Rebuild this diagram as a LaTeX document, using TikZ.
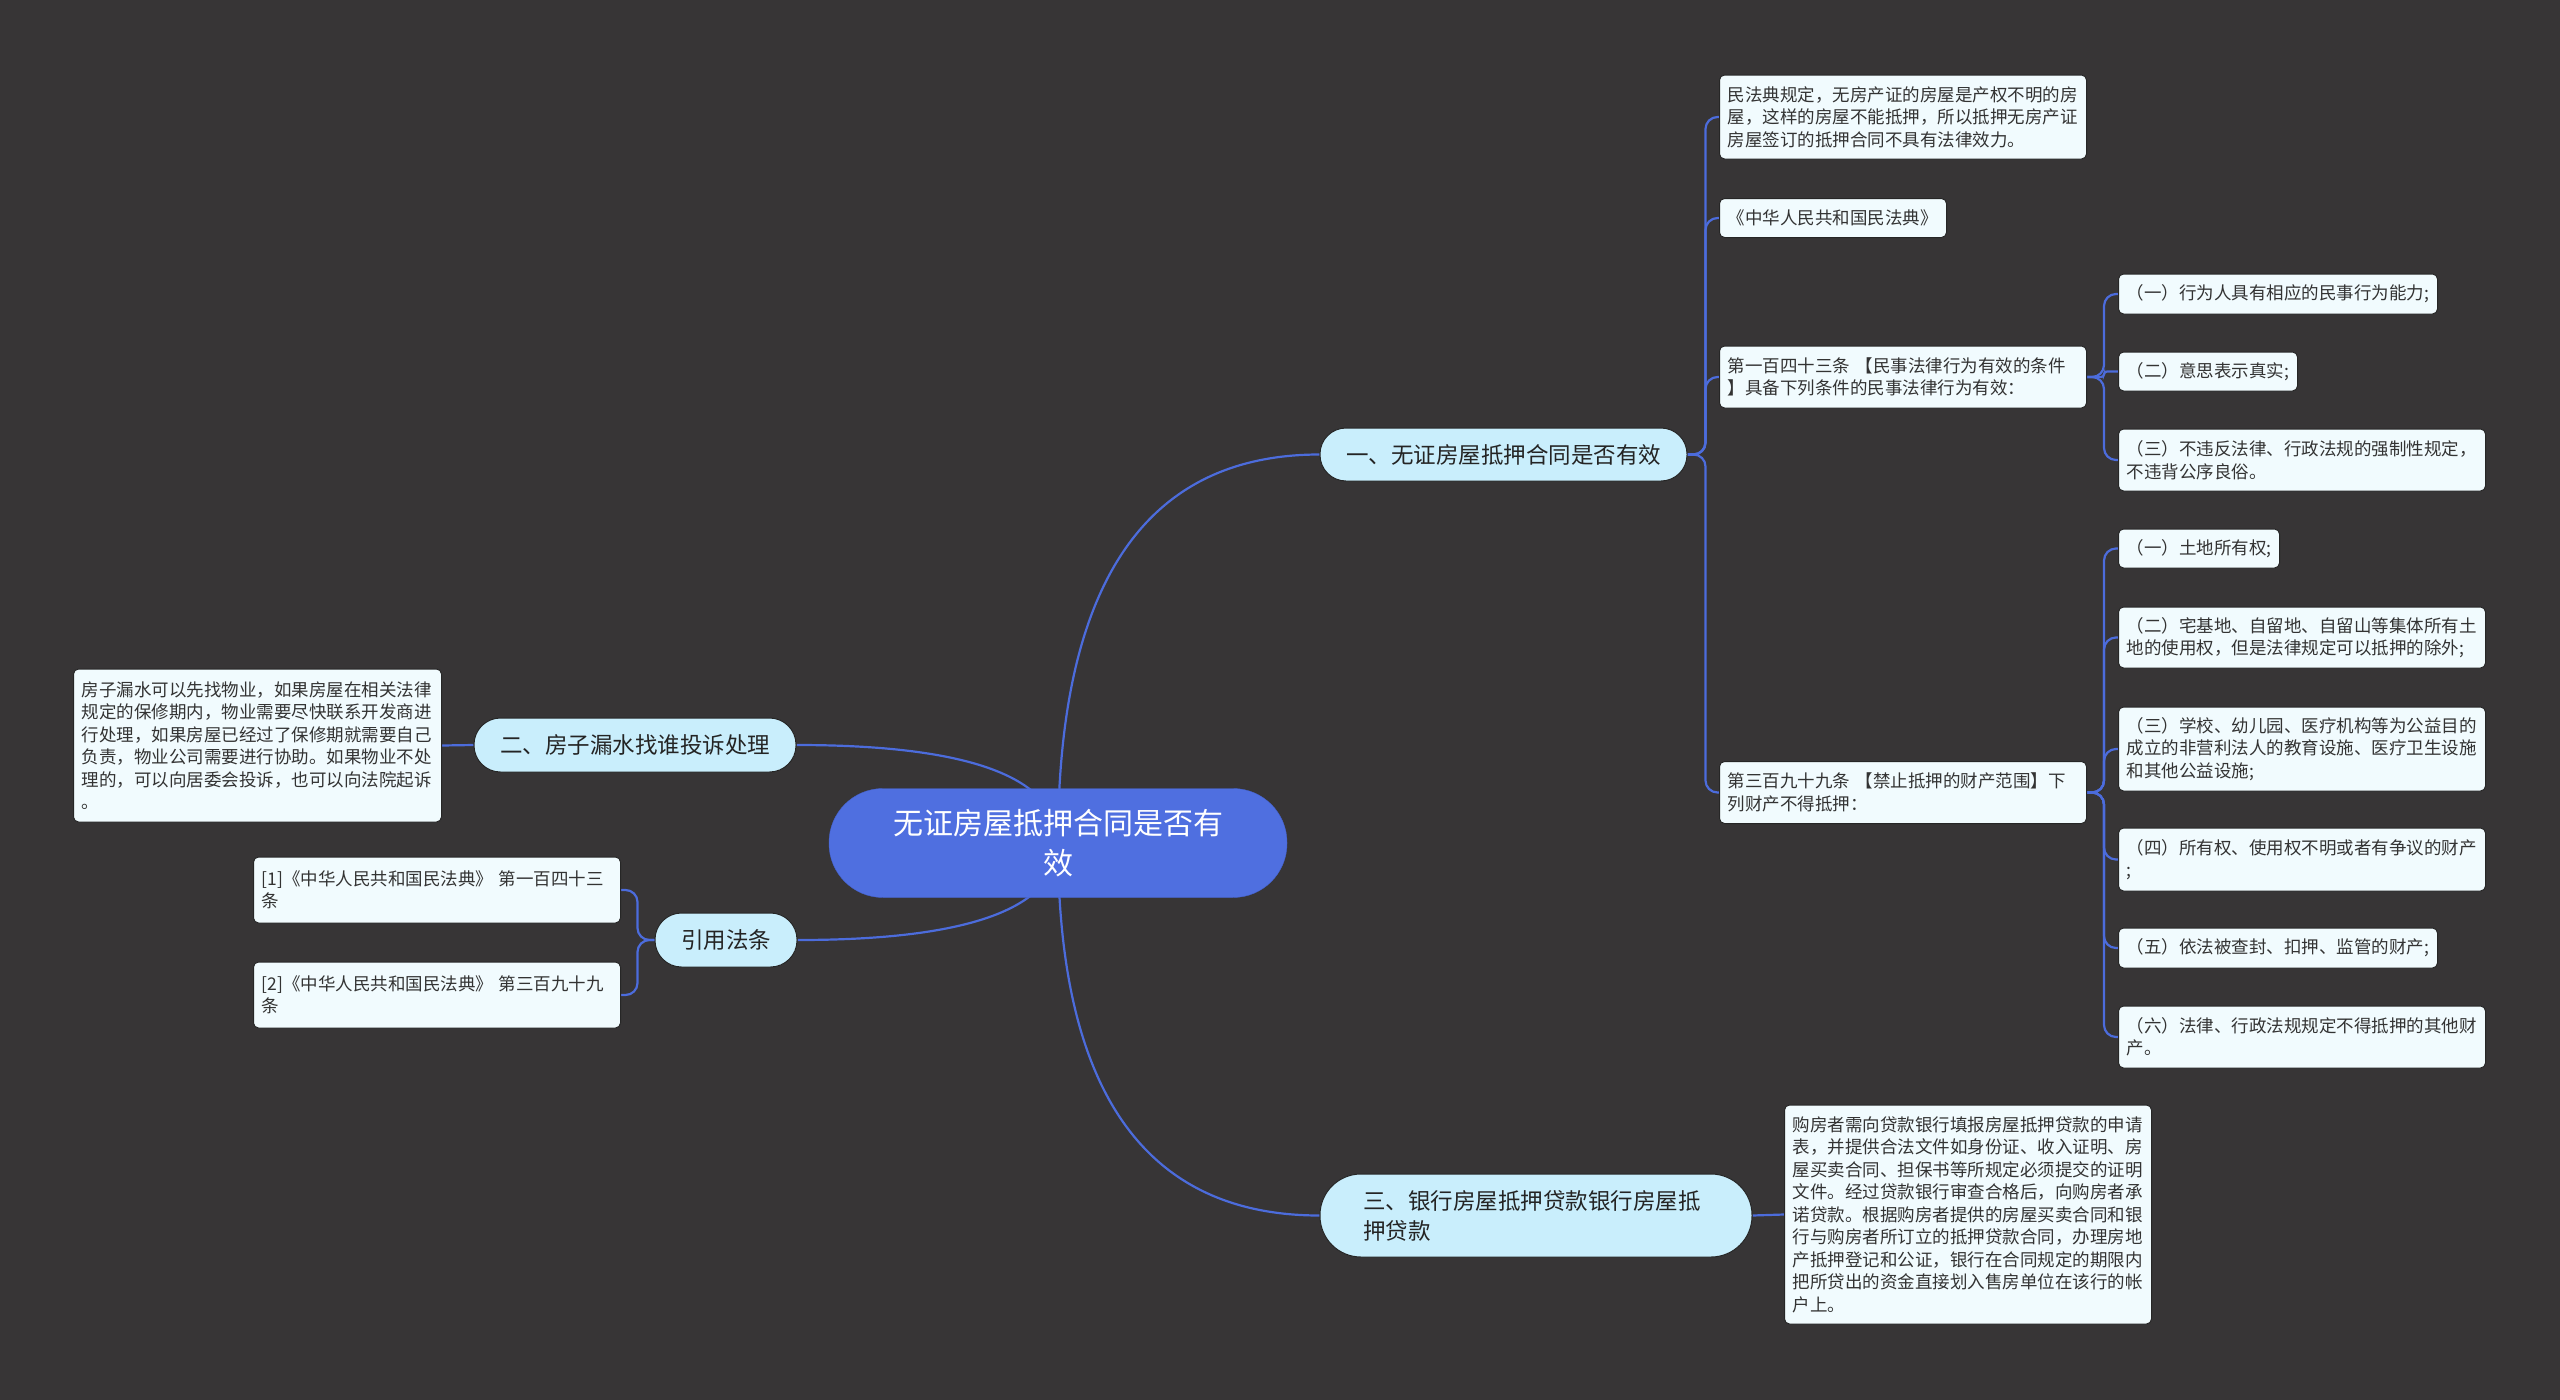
\documentclass[tikz,border=0pt]{standalone}
\usepackage{fontspec}
\setmainfont{Noto Sans CJK SC}
\usetikzlibrary{calc}

\definecolor{canvas}{HTML}{373536}
\definecolor{wire}{HTML}{4C6CDC}
\definecolor{rootfill}{HTML}{4F6FE0}
\definecolor{rootedge}{HTML}{4563CF}
\definecolor{branchfill}{HTML}{C9EEFC}
\definecolor{leaffill}{HTML}{F1FBFE}
\definecolor{boxedge}{HTML}{262626}
\definecolor{ink}{HTML}{333333}

\pgfdeclarelayer{bg}
\pgfsetlayers{bg,main}

\tikzset{
  root/.style={rectangle, rounded corners=54, fill=rootfill, draw=rootedge, text=white,
    minimum width=458, minimum height=109, align=center, font=\fontsize{30}{40}\selectfont},
  branch/.style={rectangle, fill=branchfill, draw=boxedge, line width=1, text=ink!70!black,
    inner xsep=0, font=\fontsize{22.5}{30}\selectfont},
  leaf/.style={rectangle, rounded corners=5, fill=leaffill, draw=boxedge, line width=1, text=ink,
    align=left, inner xsep=8, inner ysep=0, text width=#1, font=\fontsize{17.5}{22.5}\selectfont},
  link/.style={draw=wire, line width=2.2},
}

\begin{document}
\begin{tikzpicture}[x=1pt, y=-1pt]
    \begin{pgfonlayer}{bg}
    \fill[canvas] (0,0) rectangle (2560,1400);
    \end{pgfonlayer}
    \useasboundingbox (0,0) rectangle (2560,1400);

    % centre and main branches
    \node[root] (root) at (1058,843) {无证房屋抵押合同是否有\\效};
    \node[branch, minimum width=367, minimum height=53, rounded corners=26] (b1) at (1503.5,454.5) {一、无证房屋抵押合同是否有效};
    \node[branch, minimum width=322, minimum height=54, rounded corners=26.5] (b2) at (635,745) {二、房子漏水找谁投诉处理};
    \node[branch, minimum width=432, minimum height=83, rounded corners=41, text width=346, align=left] (b3) at (1536,1215.5) {三、银行房屋抵押贷款银行房屋抵\\押贷款};
    \node[branch, minimum width=142, minimum height=54, rounded corners=26.5] (b4) at (726,940) {引用法条};

    % first branch
    \node[leaf=351, minimum height=84, anchor=west] (l1) at (1719,117) {民法典规定，无房产证的房屋是产权不明的房\\屋，这样的房屋不能抵押，所以抵押无房产证\\房屋签订的抵押合同不具有法律效力。};
    \node[leaf=211, minimum height=39, anchor=west] (l2) at (1719,218) {《中华人民共和国民法典》};
    \node[leaf=351, minimum height=62, anchor=west] (l3) at (1719,377) {第一百四十三条~【民事法律行为有效的条件\\】具备下列条件的民事法律行为有效：};
    \node[leaf=351, minimum height=62, anchor=west] (l4) at (1719,792.5) {第三百九十九条~【禁止抵押的财产范围】下\\列财产不得抵押：};

    \node[leaf=303, minimum height=40, anchor=west] (s1) at (2118,294) {（一）行为人具有相应的民事行为能力;};
    \node[leaf=163, minimum height=39, anchor=west] (s2) at (2118,371.5) {（二）意思表示真实;};
    \node[leaf=351, minimum height=62, anchor=west] (s3) at (2118,460) {（三）不违反法律、行政法规的强制性规定，\\不违背公序良俗。};

    \node[leaf=145, minimum height=39, anchor=west] (t1) at (2118,548.5) {（一）土地所有权;};
    \node[leaf=351, minimum height=61, anchor=west] (t2) at (2118,637.5) {（二）宅基地、自留地、自留山等集体所有土\\地的使用权，但是法律规定可以抵押的除外;};
    \node[leaf=351, minimum height=84, anchor=west] (t3) at (2118,749) {（三）学校、幼儿园、医疗机构等为公益目的\\成立的非营利法人的教育设施、医疗卫生设施\\和其他公益设施;};
    \node[leaf=351, minimum height=63, anchor=west] (t4) at (2118,859.5) {（四）所有权、使用权不明或者有争议的财产\\;};
    \node[leaf=303, minimum height=40, anchor=west] (t5) at (2118,948) {（五）依法被查封、扣押、监管的财产;};
    \node[leaf=351, minimum height=62, anchor=west] (t6) at (2118,1037) {（六）法律、行政法规规定不得抵押的其他财\\产。};

    % second branch
    \node[leaf=352, minimum height=153, anchor=east] (w1) at (442,745.5) {房子漏水可以先找物业，如果房屋在相关法律\\规定的保修期内，物业需要尽快联系开发商进\\行处理，如果房屋已经过了保修期就需要自己\\负责，物业公司需要进行协助。如果物业不处\\理的，可以向居委会投诉，也可以向法院起诉\\。};

    % third branch
    \node[leaf=351, minimum height=219, anchor=west] (d1) at (1784,1214.5) {购房者需向贷款银行填报房屋抵押贷款的申请\\表，并提供合法文件如身份证、收入证明、房\\屋买卖合同、担保书等所规定必须提交的证明\\文件。经过贷款银行审查合格后，向购房者承\\诺贷款。根据购房者提供的房屋买卖合同和银\\行与购房者所订立的抵押贷款合同，办理房地\\产抵押登记和公证，银行在合同规定的期限内\\把所贷出的资金直接划入售房单位在该行的帐\\户上。};

    % references
    \node[leaf=351, minimum height=66, anchor=east] (r1) at (621,890) {[1]《中华人民共和国民法典》~第一百四十三\\条};
    \node[leaf=351, minimum height=66, anchor=east] (r2) at (621,995) {[2]《中华人民共和国民法典》~第三百九十九\\条};

    \begin{pgfonlayer}{bg}
    \draw[link] (root.center) .. controls ($(root.center)!.667!(root.center|-b1.west)$) and ($(b1.west)!.667!(root.center|-b1.west)$) .. (b1.west);
    \draw[link] (root.center) .. controls ($(root.center)!.667!(root.center|-b2.east)$) and ($(b2.east)!.667!(root.center|-b2.east)$) .. (b2.east);
    \draw[link] (root.center) .. controls ($(root.center)!.667!(root.center|-b3.west)$) and ($(b3.west)!.667!(root.center|-b3.west)$) .. (b3.west);
    \draw[link] (root.center) .. controls ($(root.center)!.667!(root.center|-b4.east)$) and ($(b4.east)!.667!(root.center|-b4.east)$) .. (b4.east);

    \draw[link, rounded corners=12] (b1.east) -- ++(18,0) |- (l1.west);
    \draw[link, rounded corners=12] (b1.east) -- ++(18,0) |- (l2.west);
    \draw[link, rounded corners=12] (b1.east) -- ++(18,0) |- (l3.west);
    \draw[link, rounded corners=12] (b1.east) -- ++(18,0) |- (l4.west);

    \draw[link, rounded corners=12] (l3.east) -- ++(17,0) |- (s1.west);
    \draw[link, rounded corners=3] (l3.east) -- ++(17,0) |- (s2.west);
    \draw[link, rounded corners=12] (l3.east) -- ++(17,0) |- (s3.west);

    \draw[link, rounded corners=12] (l4.east) -- ++(17,0) |- (t1.west);
    \draw[link, rounded corners=12] (l4.east) -- ++(17,0) |- (t2.west);
    \draw[link, rounded corners=12] (l4.east) -- ++(17,0) |- (t3.west);
    \draw[link, rounded corners=12] (l4.east) -- ++(17,0) |- (t4.west);
    \draw[link, rounded corners=12] (l4.east) -- ++(17,0) |- (t5.west);
    \draw[link, rounded corners=12] (l4.east) -- ++(17,0) |- (t6.west);

    \draw[link] (b2.west) -- (w1.east);
    \draw[link] (b3.east) -- (d1.west);

    \draw[link, rounded corners=12] (b4.west) -- ++(-17,0) |- (r1.east);
    \draw[link, rounded corners=12] (b4.west) -- ++(-17,0) |- (r2.east);
    \end{pgfonlayer}
\end{tikzpicture}
\end{document}
